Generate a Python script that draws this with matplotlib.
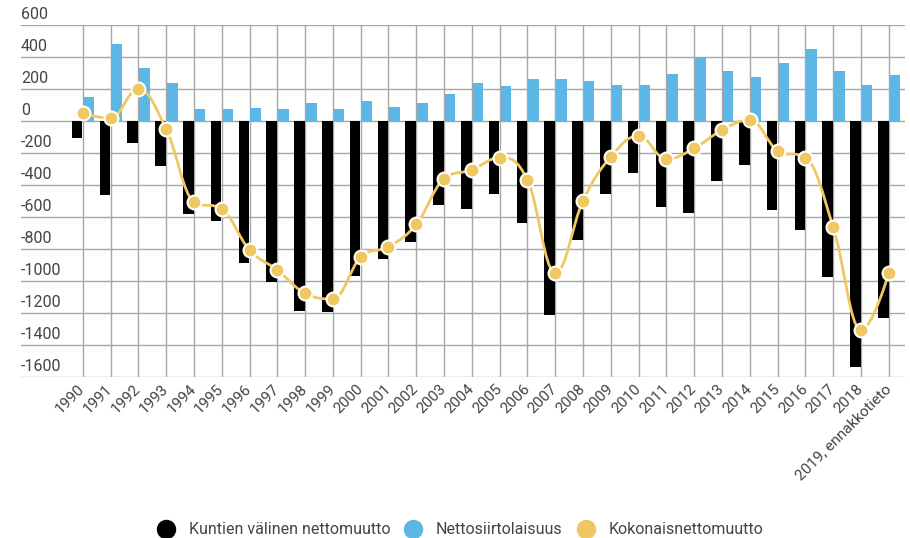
import matplotlib.pyplot as plt
import numpy as np
from matplotlib.lines import Line2D
from matplotlib.path import Path
from matplotlib.patches import PathPatch

plt.rcParams['font.family'] = ['Roboto', 'DejaVu Sans']

# %%
years = [str(y) for y in range(1990, 2019)] + ['2019, ennakkotieto']

kuntien_valinen = [
    -108, -462, -140, -281, -583, -623, -885, -1006, -1187, -1196,
    -969, -865, -758, -525, -550, -456, -640, -1212, -744, -456,
    -327, -540, -577, -375, -275, -556, -681, -977, -1535, -1233]

nettosiirtolaisuus = [
    152, 479, 333, 235, 77, 77, 83, 77, 114, 77,
    123, 85, 114, 167, 235, 219, 265, 265, 250, 225,
    225, 296, 398, 310, 273, 365, 448, 310, 225, 286]

kokonais = [
    48, 17, 198, -50, -504, -550, -806, -931, -1077, -1112,
    -852, -785, -646, -362, -306, -229, -369, -948, -498, -223,
    -94, -238, -171, -56, 6, -185, -229, -665, -1306, -948]

names = ['Kuntien välinen nettomuutto', 'Nettosiirtolaisuus', 'Kokonaisnettomuutto']
colors = ['#000000', '#5db7e5', '#efc862']
text_color = '#444444'
grid_color = '#a6a6a6'


# %%
def spline_path(xs, ys, smoothing=1.5):
    """Highcharts-style spline through the points, as cubic bezier segments."""
    denom = smoothing + 1
    n = len(xs)
    left = [None] * n
    right = [None] * n
    for i in range(1, n - 1):
        px, py = xs[i], ys[i]
        lx, ly = xs[i - 1], ys[i - 1]
        nx, ny = xs[i + 1], ys[i + 1]
        lcx, lcy = (smoothing * px + lx) / denom, (smoothing * py + ly) / denom
        rcx, rcy = (smoothing * px + nx) / denom, (smoothing * py + ny) / denom
        corr = 0
        if rcx != lcx:
            corr = (rcy - lcy) * (rcx - px) / (rcx - lcx) + py - rcy
        lcy += corr
        rcy += corr
        if lcy > ly and lcy > py:
            lcy = max(ly, py)
            rcy = 2 * py - lcy
        elif lcy < ly and lcy < py:
            lcy = min(ly, py)
            rcy = 2 * py - lcy
        if rcy > ny and rcy > py:
            rcy = max(ny, py)
            lcy = 2 * py - rcy
        elif rcy < ny and rcy < py:
            rcy = min(ny, py)
            lcy = 2 * py - rcy
        left[i] = (lcx, lcy)
        right[i] = (rcx, rcy)
    verts = [(xs[0], ys[0])]
    codes = [Path.MOVETO]
    for i in range(1, n):
        c1 = right[i - 1] or (xs[i - 1], ys[i - 1])
        c2 = left[i] or (xs[i], ys[i])
        verts += [c1, c2, (xs[i], ys[i])]
        codes += [Path.CURVE4] * 3
    return Path(verts, codes)


# %%
fig = plt.figure(figsize=(9.1, 5.38), dpi=100)
ax = fig.add_axes([21 / 910, 1 - 377 / 538, (905 - 21) / 910, (377 - 25) / 538])

x = np.arange(len(years))
bw = 0.38
ax.bar(x - 0.2, kuntien_valinen, width=bw, color=colors[0], zorder=2)
ax.bar(x + 0.22, nettosiirtolaisuus, width=bw, color=colors[1], zorder=2)

ax.add_patch(PathPatch(spline_path(x, kokonais), facecolor='none',
                       edgecolor=colors[2], lw=2, zorder=3))
ax.plot(x, kokonais, ls='none', marker='o', ms=10, mfc=colors[2],
        mec='white', mew=1.5, zorder=4)

ax.set_xlim(-2.22, 29.58)
ax.set_ylim(-1600, 600)
yt = np.arange(-1600, 601, 200)
ax.set_yticks(yt)
ax.set_xticks(x)
ax.grid(True, color=grid_color, lw=1, zorder=0)
ax.set_axisbelow(True)
for s in ax.spines.values():
    s.set_visible(False)

ax.tick_params(axis='y', length=0, labelleft=False)
ax.tick_params(axis='x', length=0, pad=7)
ax.set_xticklabels(years, rotation=45, ha='right', va='center',
                   rotation_mode='anchor', fontsize=11, color=text_color)

# y labels sit above their gridline at the left edge
for v in yt:
    ax.annotate(str(v), xy=(0, v), xycoords=ax.get_yaxis_transform(),
                xytext=(0, 2.5), textcoords='offset points', ha='left', va='bottom',
                fontsize=11.5, color=text_color, annotation_clip=False)

handles = [Line2D([], [], ls='none', marker='o', ms=13, color=c) for c in colors]
fig.legend(handles, names, loc='center', bbox_to_anchor=(0.506, 1 - 530 / 538),
           ncol=3, frameon=False, fontsize=11.5, labelcolor=text_color,
           handlelength=1.0, handletextpad=0.94, columnspacing=0.94,
           borderaxespad=0)

fig.savefig('out.png', dpi=100)
